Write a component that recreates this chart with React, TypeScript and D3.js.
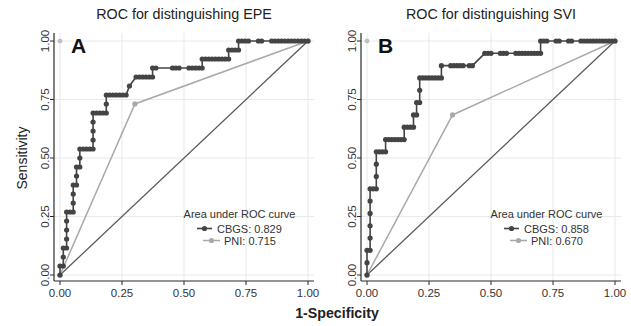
import React from 'react';
import * as d3 from 'd3';

// ---------- data ----------
const tickValues = [0, 0.25, 0.5, 0.75, 1];
const tickLabels = ['0.00', '0.25', '0.50', '0.75', '1.00'];
const panelTitles = ['ROC for distinguishing EPE', 'ROC for distinguishing SVI'];
const panelLetters = ['A', 'B'];
const legendTitle = 'Area under ROC curve';
const seriesNames = ['CBGS', 'PNI'];
const aucEPE = [0.829, 0.715];
const aucSVI = [0.858, 0.67];
const negEPE = 75;
const posEPE = 26;
const negSVI = 80;
const posSVI = 19;
// [false-positive count, true-positive count] at each cut-point
const cbgsEPE: [number, number][] = [
  [0, 0], [0, 1], [1, 1], [1, 2], [1, 3], [2, 3], [2, 4], [2, 5], [2, 6], [2, 7],
  [3, 7], [4, 7], [4, 8], [4, 9], [4, 10], [5, 10], [5, 11], [5, 12], [6, 12], [6, 13],
  [6, 14], [7, 14], [8, 14], [9, 14], [10, 14], [10, 15], [10, 16], [10, 17], [10, 18], [11, 18],
  [12, 18], [13, 18], [14, 18], [14, 19], [14, 20], [15, 20], [16, 20], [17, 20], [18, 20], [19, 20],
  [20, 20], [21, 21], [23, 22], [24, 22], [25, 22], [26, 22], [27, 22], [28, 22], [28, 23], [29, 23],
  [34, 23], [35, 23], [36, 23], [39, 23], [40, 23], [41, 23], [42, 23], [43, 23], [43, 24], [44, 24],
  [45, 24], [46, 24], [47, 24], [48, 24], [49, 24], [50, 24], [51, 24], [51, 25], [52, 25], [53, 25],
  [54, 25], [54, 26], [55, 26], [56, 26], [57, 26], [60, 26], [61, 26], [64, 26], [65, 26], [66, 26],
  [67, 26], [68, 26], [69, 26], [70, 26], [71, 26], [72, 26], [73, 26], [74, 26], [75, 26],
];
const cbgsSVI: [number, number][] = [
  [0, 0], [0, 1], [0, 2], [1, 2], [1, 3], [1, 4], [1, 5], [1, 6], [1, 7], [2, 7],
  [3, 7], [3, 8], [3, 9], [3, 10], [4, 10], [5, 10], [6, 10], [6, 11], [7, 11], [8, 11],
  [9, 11], [10, 11], [11, 11], [12, 11], [12, 12], [13, 12], [14, 12], [15, 12], [15, 13], [16, 13],
  [16, 14], [17, 14], [17, 15], [17, 16], [18, 16], [19, 16], [20, 16], [21, 16], [22, 16], [23, 16],
  [24, 16], [24, 17], [27, 17], [28, 17], [29, 17], [30, 17], [31, 17], [33, 17], [34, 17], [38, 18],
  [39, 18], [40, 18], [43, 18], [44, 18], [45, 18], [48, 18], [49, 18], [50, 18], [51, 18], [52, 18],
  [53, 18], [54, 18], [55, 18], [56, 18], [56, 19], [57, 19], [58, 19], [61, 19], [62, 19], [65, 19],
  [66, 19], [69, 19], [70, 19], [71, 19], [72, 19], [73, 19], [74, 19], [75, 19], [76, 19], [77, 19],
  [78, 19], [79, 19], [80, 19],
];
// [1-specificity, sensitivity]
const pniEPE: [number, number][] = [[0, 0], [0.302, 0.731], [1, 1]];
const pniSVI: [number, number][] = [[0, 0], [0.345, 0.684], [1, 1]];
const cornerMark: [number, number] = [0, 1];

// ---------- styles ----------
const FONT = '"Liberation Sans", Arial, Helvetica, sans-serif';
const DARK = '#444444';
const LIGHT = '#a9a9a9';
const DIAG = '#5a5a5a';
const GRID = '#e9e9e9';
const AXIS = '#2a2a2a';

const PLOT_W = 248;
const Y_BOTTOM = 275;
const Y_TOP = 41;

type PanelProps = {
  x0: number;
  title: string;
  letter: string;
  cbgs: [number, number][];
  nNeg: number;
  nPos: number;
  pni: [number, number][];
  auc: number[];
};

function Panel({ x0, title, letter, cbgs, nNeg, nPos, pni, auc }: PanelProps) {
  const x = d3.scaleLinear().domain([0, 1]).range([x0, x0 + PLOT_W]);
  const y = d3.scaleLinear().domain([0, 1]).range([Y_BOTTOM, Y_TOP]);
  const cbgsPts: [number, number][] = cbgs.map(([fp, tp]) => [fp / nNeg, tp / nPos]);
  const line = d3
    .line<[number, number]>()
    .x((d) => x(d[0]))
    .y((d) => y(d[1]));

  const axisX = x0 - 6;
  const axisY = Y_BOTTOM + 6;
  const top = Y_TOP - 8;
  const right = x0 + PLOT_W + 6;
  const legCx = x0 + 179.5;

  return (
    <g>
      {/* title */}
      <text x={x(0.5)} y={19} textAnchor="middle" fontSize={14.3} fill="#222" fontFamily={FONT}>
        {title}
      </text>
      {/* grid */}
      {tickValues.map((t) => (
        <line key={'gx' + t} x1={x(t)} x2={x(t)} y1={top} y2={axisY} stroke={GRID} strokeWidth={1} />
      ))}
      {tickValues.map((t) => (
        <line key={'gy' + t} x1={axisX} x2={right} y1={y(t)} y2={y(t)} stroke={GRID} strokeWidth={1} />
      ))}
      {/* axes */}
      <line x1={axisX} x2={axisX} y1={top} y2={axisY} stroke={AXIS} strokeWidth={1.2} />
      <line x1={axisX} x2={right} y1={axisY} y2={axisY} stroke={AXIS} strokeWidth={1.2} />
      {tickValues.map((t, i) => (
        <g key={'tx' + t}>
          <line x1={x(t)} x2={x(t)} y1={axisY} y2={axisY + 4} stroke={AXIS} strokeWidth={1} />
          <text x={x(t)} y={axisY + 16} textAnchor="middle" fontSize={11.5} fill="#333" fontFamily={FONT}>
            {tickLabels[i]}
          </text>
        </g>
      ))}
      {tickValues.map((t, i) => (
        <g key={'ty' + t}>
          <line x1={axisX - 4} x2={axisX} y1={y(t)} y2={y(t)} stroke={AXIS} strokeWidth={1} />
          <text
            transform={`translate(${axisX - 5},${y(t)}) rotate(-90)`}
            textAnchor="middle"
            fontSize={11.5}
            fill="#333"
            fontFamily={FONT}
          >
            {tickLabels[i]}
          </text>
        </g>
      ))}
      {/* reference diagonal */}
      <path d={line([[0, 0], [1, 1]]) || ''} stroke={DIAG} strokeWidth={1.3} fill="none" />
      {/* PNI */}
      <path d={line(pni) || ''} stroke={LIGHT} strokeWidth={1.5} fill="none" />
      {pni.map((d, i) => (
        <circle key={'p' + i} cx={x(d[0])} cy={y(d[1])} r={2.6} fill={LIGHT} />
      ))}
      <circle cx={x(cornerMark[0])} cy={y(cornerMark[1])} r={2} fill="#c4c4c4" stroke="#aaa" strokeWidth={0.6} />
      {/* CBGS */}
      <path d={line(cbgsPts) || ''} stroke={DARK} strokeWidth={1.6} fill="none" />
      {cbgsPts.map((d, i) => (
        <circle key={'c' + i} cx={x(d[0])} cy={y(d[1])} r={2.6} fill={DARK} />
      ))}
      {/* panel letter */}
      <text x={x0 + 11} y={53} fontSize={21} fontWeight="bold" fill="#111" fontFamily={FONT}>
        {letter}
      </text>
      {/* legend */}
      <text x={legCx} y={218} textAnchor="middle" fontSize={11} fill="#333" fontFamily={FONT}>
        {legendTitle}
      </text>
      <line x1={x0 + 137} x2={x0 + 152} y1={228.5} y2={228.5} stroke={DARK} strokeWidth={1.6} />
      <circle cx={x0 + 144.5} cy={228.5} r={2.6} fill={DARK} />
      <text x={x0 + 157} y={232.5} fontSize={11} fill="#333" fontFamily={FONT}>
        {`${seriesNames[0]}: ${auc[0].toFixed(3)}`}
      </text>
      <line x1={x0 + 143} x2={x0 + 160} y1={240.5} y2={240.5} stroke={LIGHT} strokeWidth={1.5} />
      <circle cx={x0 + 151.5} cy={240.5} r={2.6} fill={LIGHT} />
      <text x={x0 + 164} y={244.5} fontSize={11} fill="#333" fontFamily={FONT}>
        {`${seriesNames[1]}: ${auc[1].toFixed(3)}`}
      </text>
    </g>
  );
}

export default function App() {
  return (
    <svg
      width={631}
      height={326}
      viewBox="0 0 631 326"
      style={{ position: 'absolute', left: 0, top: 0, background: '#fff' }}
    >
      <rect x={0} y={0} width={631} height={326} fill="#fff" />
      <Panel x0={60} title={panelTitles[0]} letter={panelLetters[0]} cbgs={cbgsEPE} nNeg={negEPE} nPos={posEPE} pni={pniEPE} auc={aucEPE} />
      <Panel x0={367} title={panelTitles[1]} letter={panelLetters[1]} cbgs={cbgsSVI} nNeg={negSVI} nPos={posSVI} pni={pniSVI} auc={aucSVI} />
      <text
        transform="translate(27,158) rotate(-90)"
        textAnchor="middle"
        fontSize={14}
        fill="#222"
        fontFamily={FONT}
      >
        Sensitivity
      </text>
      <text x={337} y={318} textAnchor="middle" fontSize={14.2} fontWeight="bold" fill="#222" fontFamily={FONT}>
        1-Specificity
      </text>
    </svg>
  );
}
